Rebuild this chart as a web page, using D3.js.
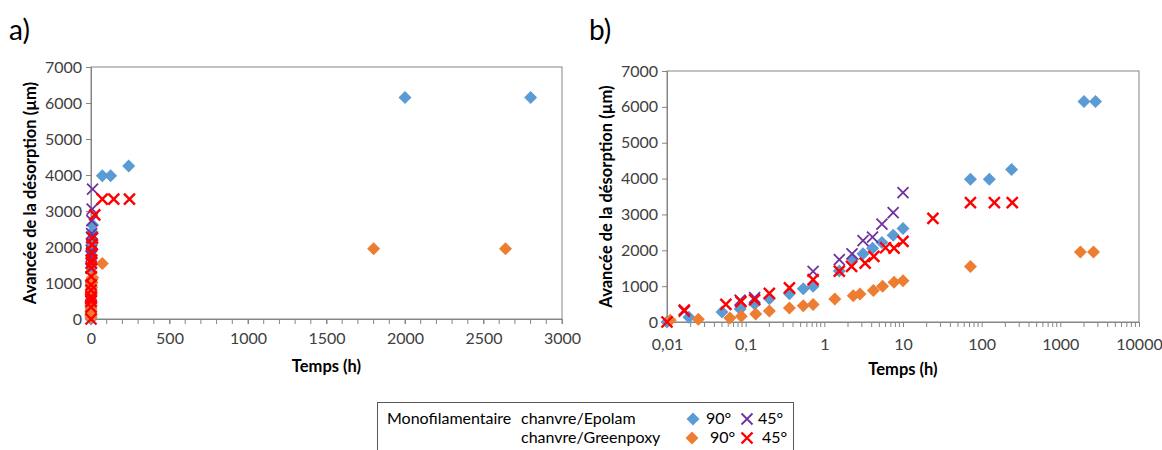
<!DOCTYPE html>
<html><head><meta charset="utf-8">
<script src="https://cdn.jsdelivr.net/npm/d3@7"></script>
<style>
html,body{margin:0;padding:0;background:#fff;}
text{font-family:Lato,"Open Sans",sans-serif;}
</style></head>
<body>
<svg id="c" width="1162" height="450"></svg>
<script>
// ---- data ----
const epolam90T = [0.01, 0.019, 0.05, 0.085, 0.13, 0.2, 0.36, 0.54, 0.72, 1.55, 2.3, 3.1, 4.1, 5.4, 7.5, 10, 72, 125, 240, 2000, 2800];
const epolam90V = [0, 130, 280, 360, 500, 650, 790, 930, 1000, 1420, 1750, 1900, 2060, 2220, 2420, 2610, 3980, 3980, 4250, 6150, 6150];
const epolam45T = [0.0166, 0.085, 0.13, 0.72, 1.55, 2.25, 3.1, 4.1, 5.4, 7.5, 10];
const epolam45V = [300, 610, 680, 1410, 1740, 1900, 2270, 2370, 2730, 3050, 3610];
const green90T = [0.011, 0.025, 0.063, 0.088, 0.134, 0.2, 0.36, 0.54, 0.72, 1.36, 2.33, 2.84, 4.2, 5.5, 7.7, 10, 72, 1800, 2640];
const green90V = [50, 80, 110, 160, 220, 310, 390, 450, 490, 640, 730, 780, 880, 1000, 1110, 1150, 1545, 1950, 1950];
const green45T = [0.01, 0.0166, 0.056, 0.087, 0.13, 0.2, 0.36, 0.72, 1.55, 2.22, 3.3, 4.26, 6.0, 7.7, 10, 24, 72, 145, 245];
const green45V = [0, 330, 490, 570, 620, 800, 950, 1180, 1420, 1550, 1640, 1830, 2070, 2060, 2250, 2890, 3330, 3330, 3330];
const yTicks = [0, 1000, 2000, 3000, 4000, 5000, 6000, 7000];
const xTicksLin = [0, 500, 1000, 1500, 2000, 2500, 3000];
const xTicksLog = [0.01, 0.1, 1, 10, 100, 1000, 10000];
const xTickLabelsLog = ["0,01", "0,1", "1", "10", "100", "1000", "10000"];
const yTitle = "Avancée  de la désorption (µm)";
const xTitle = "Temps (h)";

const series = [
  {t: epolam90T, v: epolam90V, shape: "diamond", color: "#5B9BD5"},
  {t: epolam45T, v: epolam45V, shape: "x", color: "#7030A0", sw: 1.8},
  {t: green90T, v: green90V, shape: "diamond", color: "#ED7D31"},
  {t: green45T, v: green45V, shape: "x", color: "#FF0000", sw: 2.4}
];

const svg = d3.select("#c");
const axisCol = "#868686", textCol = "#404040";
const tickFs = 16, titleFs = 16.5;

function marker(g, shape, color, sw) {
  if (shape === "diamond") {
    const r = 6.5;
    g.append("path").attr("d", `M0,${-r}L${r},0L0,${r}L${-r},0Z`).attr("fill", color);
  } else {
    const r = 5.5;
    g.append("path").attr("d", `M${-r},${-r}L${r},${r}M${-r},${r}L${r},${-r}`)
      .attr("stroke", color).attr("stroke-width", sw).attr("fill", "none");
  }
}

function panel(opt) {
  const {L, R, T, B, x} = opt;
  const y = d3.scaleLinear().domain([0, 7000]).range([B, T]);
  const g = svg.append("g");
  g.append("rect").attr("x", L).attr("y", T).attr("width", R - L).attr("height", B - T)
    .attr("fill", "none").attr("stroke", axisCol).attr("stroke-width", 1);
  const ya = g.append("g").attr("transform", `translate(${L},0)`)
    .call(d3.axisLeft(y).tickValues(yTicks).tickSize(5).tickPadding(4).tickFormat(d3.format("d")));
  ya.select(".domain").attr("stroke", axisCol);
  ya.selectAll(".tick line").attr("stroke", axisCol);
  ya.selectAll("text").attr("font-size", tickFs).attr("fill", textCol).style("font-family", "Lato");
  const xa = g.append("g").attr("transform", `translate(0,${B})`);
  xa.selectAll("line.minor").data(opt.minor).enter().append("line")
    .attr("x1", d => x(d)).attr("x2", d => x(d)).attr("y1", 0).attr("y2", 5).attr("stroke", axisCol);
  const xa2 = g.append("g").attr("transform", `translate(0,${B})`)
    .call(d3.axisBottom(x).tickValues(opt.ticks).tickSize(5).tickPadding(opt.pad).tickFormat((d, i) => opt.labels[i]));
  xa2.select(".domain").attr("stroke", axisCol);
  xa2.selectAll(".tick line").attr("stroke", axisCol);
  xa2.selectAll("text").attr("font-size", tickFs).attr("fill", textCol).style("font-family", "Lato");
  g.append("text").attr("x", (L + R) / 2).attr("y", opt.xtY).attr("text-anchor", "middle")
    .attr("font-size", titleFs).attr("font-weight", "bold").attr("fill", "#000").text(xTitle);
  g.append("text").attr("transform", `translate(${opt.ytX},${(T + B) / 2}) rotate(-90)`)
    .attr("text-anchor", "middle").attr("font-size", titleFs).attr("font-weight", "bold").attr("fill", "#000").text(yTitle);
  g.append("text").attr("x", opt.lblX).attr("y", 40).attr("font-size", 28).attr("fill", "#000").text(opt.lbl);
  series.forEach(s => {
    s.t.forEach((t, i) => {
      const m = g.append("g").attr("transform", `translate(${x(t)},${y(s.v[i])})`);
      marker(m, s.shape, s.color, s.sw);
    });
  });
}

const xa = d3.scaleLinear().domain([0, 3000]).range([91, 562]);
panel({L: 91, R: 562, T: 67, B: 319, x: xa, ticks: xTicksLin, labels: xTicksLin.map(String),
  minor: d3.range(0, 3001, 100), pad: 9, xtY: 372, ytX: 36, lbl: "a)", lblX: 9});

const xb = d3.scaleLog().domain([0.01, 10000]).range([667, 1139]);
const minorLog = [];
for (let e = -2; e < 4; e++) for (let k = 2; k <= 9; k++) minorLog.push(k * Math.pow(10, e));
panel({L: 667, R: 1139, T: 71, B: 322, x: xb, ticks: xTicksLog, labels: xTickLabelsLog,
  minor: minorLog, pad: 12, xtY: 375, ytX: 612, lbl: "b)", lblX: 589});

const lg = svg.append("g");
lg.append("rect").attr("x", 377.5).attr("y", 402.5).attr("width", 416).attr("height", 60)
  .attr("fill", "#fff").attr("stroke", "#595959").attr("stroke-width", 1);
const lf = 16;
lg.append("text").attr("x", 387).attr("y", 424).attr("font-size", lf).attr("fill", "#000").text("Monofilamentaire");
lg.append("text").attr("x", 521).attr("y", 424).attr("font-size", lf).attr("fill", "#000").text("chanvre/Epolam");
lg.append("text").attr("x", 521).attr("y", 443).attr("font-size", lf).attr("fill", "#000").text("chanvre/Greenpoxy");
const legItems = [
  {x: 693, y: 419, s: series[0], tx: 706, label: "90°"},
  {x: 747, y: 419, s: series[1], tx: 758, label: "45°"},
  {x: 692, y: 438, s: series[2], tx: 710, label: "90°"},
  {x: 747, y: 438, s: series[3], tx: 762, label: "45°"}
];
legItems.forEach(it => {
  const m = lg.append("g").attr("transform", `translate(${it.x},${it.y})`);
  marker(m, it.s.shape, it.s.color, it.s.sw);
  lg.append("text").attr("x", it.tx).attr("y", it.y + 5).attr("font-size", lf).attr("fill", "#000").text(it.label);
});
</script>
</body></html>
